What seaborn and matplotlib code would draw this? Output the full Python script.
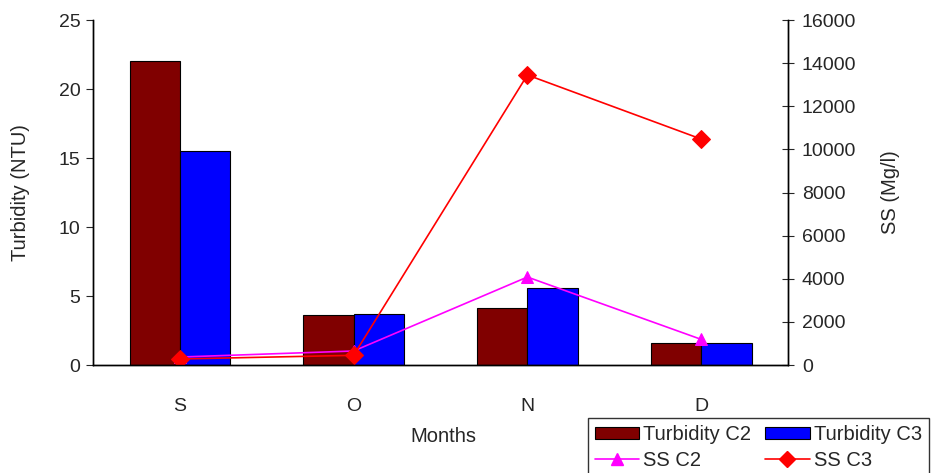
import numpy as np
import pandas as pd
import matplotlib
matplotlib.use('Agg')
import matplotlib.pyplot as plt
import seaborn as sns
from matplotlib.patches import Patch
from matplotlib.lines import Line2D

# 数据
months = ['S', 'O', 'N', 'D']
turb_c2 = [22.0, 3.6, 4.1, 1.6]
turb_c3 = [15.5, 3.7, 5.6, 1.6]
ss_c2 = [370, 650, 4080, 1190]
ss_c3 = [280, 450, 13450, 10480]

sns.set_style('white')
plt.rcParams['font.family'] = ['Liberation Sans', 'DejaVu Sans']
plt.rcParams['font.size'] = 14

bar_df = pd.DataFrame({
    'Month': months * 2,
    'Turbidity': turb_c2 + turb_c3,
    'Series': ['Turbidity C2'] * 4 + ['Turbidity C3'] * 4,
})

fig = plt.figure(figsize=(9.33, 4.73), dpi=100)
ax = fig.add_axes([0.0997, 0.2283, 0.7449, 0.7294])

sns.barplot(data=bar_df, x='Month', y='Turbidity', hue='Series',
            palette={'Turbidity C2': '#800000', 'Turbidity C3': '#0000FF'},
            saturation=1, width=0.58, edgecolor='black', linewidth=0.8,
            ax=ax, legend=False)
ax.set_ylim(0, 25)
ax.set_yticks(np.arange(0, 26, 5))
ax.set_xlim(-0.5, len(months) - 0.5)
ax.set_xlabel('Months', fontsize=14.5)
ax.xaxis.set_label_coords(0.504, -0.206)
ax.xaxis.label.set_va('center')
ax.set_ylabel('Turbidity (NTU)', fontsize=14.5)
ax.yaxis.set_label_coords(-0.105, 0.5)
ax.yaxis.label.set_va('center')
ax.tick_params(axis='x', which='major', length=0, pad=24, labelsize=14)
ax.set_xticks(np.arange(0.5, len(months) - 0.5), minor=True)
ax.tick_params(axis='x', which='minor', length=7, direction='out', width=0.8)
ax.tick_params(axis='y', length=5, direction='out', width=0.8, left=True,
               pad=4, labelsize=14)

# 右轴 SS
ax2 = ax.twinx()
pos = np.arange(len(months))
sns.lineplot(x=pos, y=ss_c2, color='#FF00FF', marker='^', markersize=9,
             markeredgecolor='#FF00FF', linewidth=1.2, ax=ax2, sort=False)
sns.lineplot(x=pos, y=ss_c3, color='#FF0000', marker='D', markersize=9,
             markeredgecolor='#FF0000', linewidth=1.2, ax=ax2, sort=False)
ax2.set_ylim(0, 16000)
ax2.set_yticks(np.arange(0, 16001, 2000))
ax2.set_ylabel('SS (Mg/l)', fontsize=14.5)
ax2.yaxis.set_label_coords(1.147, 0.5)
ax2.yaxis.label.set_va('center')
ax2.tick_params(axis='y', length=8, direction='inout', width=0.8, right=True,
                pad=6, labelsize=14)

for a in (ax, ax2):
    a.spines['top'].set_visible(False)
    for s in ('left', 'right', 'bottom'):
        a.spines[s].set_color('black')
        a.spines[s].set_linewidth(1.0)

handles = [
    Patch(facecolor='#800000', edgecolor='black', linewidth=0.8),
    Line2D([], [], color='#FF00FF', marker='^', markersize=9, linewidth=1.2),
    Patch(facecolor='#0000FF', edgecolor='black', linewidth=0.8),
    Line2D([], [], color='#FF0000', marker='D', markersize=8, linewidth=1.2),
]
labels = ['Turbidity C2', 'SS C2', 'Turbidity C3', 'SS C3']
leg = fig.legend(handles, labels, ncol=2, loc='upper left',
                 bbox_to_anchor=(0.630, 0.116), frameon=True, fancybox=False,
                 edgecolor='black', fontsize=14.5, handlelength=2.2,
                 handleheight=0.6, columnspacing=0.7, labelspacing=0.35,
                 handletextpad=0.2, borderpad=0.35, borderaxespad=0)
leg.get_frame().set_linewidth(1.0)

fig.savefig('out.png', dpi=100)
